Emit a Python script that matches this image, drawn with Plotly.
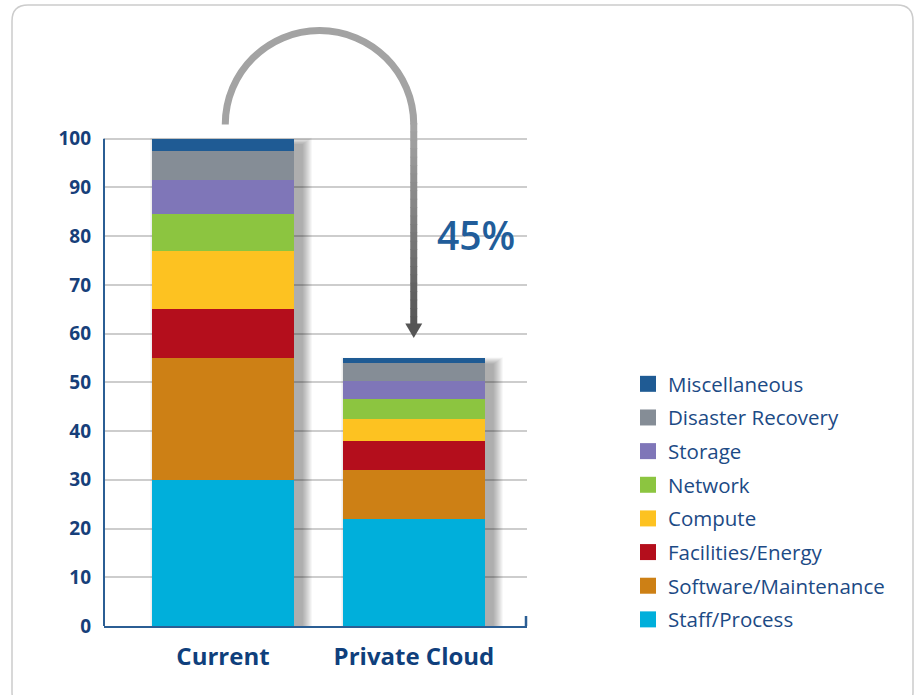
import plotly.graph_objects as go

# ---------------- data ----------------
scenarios = ["Current", "Private Cloud"]
components = ["Staff/Process", "Software/Maintenance", "Facilities/Energy", "Compute",
              "Network", "Storage", "Disaster Recovery", "Miscellaneous"]
staff_process = [30.0, 22.0]
software_maintenance = [25.0, 10.0]
facilities_energy = [10.0, 6.0]
compute = [12.0, 4.5]
network = [7.5, 4.0]
storage = [7.0, 3.7]
disaster_recovery = [6.0, 3.7]
miscellaneous = [2.5, 1.0]
reduction_label = "45%"
y_ticks = [0, 10, 20, 30, 40, 50, 60, 70, 80, 90, 100]

series = [staff_process, software_maintenance, facilities_energy, compute,
          network, storage, disaster_recovery, miscellaneous]
colors = ["#00afdb", "#cd8015", "#b40e1c", "#fdc221",
          "#8cc540", "#7f76b8", "#858d96", "#1f5b94"]

# ---------------- layout constants ----------------
W, H = 919, 695
ML, MR, MT, MB = 104, 392, 12, 69
XR = [-0.623, 1.592]
YR = [0, 126]
BAR_W = 0.743
NAVY = "#173f7a"
AXIS = "#2b5e94"

pw = W - ML - MR
ph = H - MT - MB


def px_to_paper(px, py):
    return (px - ML) / pw, (H - MB - py) / ph


fig = go.Figure()

xpos = list(range(len(scenarios)))
for name, vals, col in zip(components, series, colors):
    fig.add_trace(go.Bar(x=xpos, y=vals, name=name, marker=dict(color=col, line=dict(width=0)),
                         width=BAR_W, showlegend=False))

# legend entries (top item first = Miscellaneous)
for i, (name, col) in enumerate(zip(components[::-1], colors[::-1])):
    fig.add_trace(go.Scatter(x=[None], y=[None], mode="markers", name=name,
                             legendgroup="g%d" % i,
                             marker=dict(symbol="square", size=16, color=col)))

# ---------------- bar shadows ----------------
totals = [sum(s[i] for s in series) for i in range(len(scenarios))]
xunit = pw / (XR[1] - XR[0])
yunit = ph / (YR[1] - YR[0])
shapes = []
for i, tot in enumerate(totals):
    for k in range(1, 11):
        dx = k / xunit
        off = 8 / xunit
        shapes.append(dict(type="rect", xref="x", yref="y", layer="between",
                           x0=i - BAR_W / 2 + off - dx, x1=i + BAR_W / 2 + off + dx,
                           y0=0, y1=tot - 6 / yunit + 0.7 * k / yunit,
                           fillcolor="rgba(0,0,0,0.035)", line=dict(width=0)))

# ---------------- arrow ----------------
cx = (0 + 1) / 2 + 0.0055
rx = 0.4935
cy = 102.9
ry = 19.3
kk = 0.5523
arc = (f"M {cx - rx},{cy} C {cx - rx},{cy + kk * ry} {cx - kk * rx},{cy + ry} {cx},{cy + ry} "
       f"C {cx + kk * rx},{cy + ry} {cx + rx},{cy + kk * ry} {cx + rx},{cy}")
shapes.append(dict(type="path", xref="x", yref="y", path=arc, layer="above",
                   line=dict(color="#a3a3a3", width=7)))
y_top, y_bot = cy + 0.3, 61.8
nseg = 24
c0 = (0xa6, 0xa6, 0xa6)
c1 = (0x55, 0x55, 0x55)
for s in range(nseg):
    t0 = s / nseg
    t1 = (s + 1) / nseg
    ya = y_top + (y_bot - y_top) * t0
    yb = y_top + (y_bot - y_top) * t1 - 0.15
    tc = (s + 0.5) / nseg
    c = tuple(int(round(c0[j] + (c1[j] - c0[j]) * tc)) for j in range(3))
    shapes.append(dict(type="line", xref="x", yref="y", x0=cx + rx, x1=cx + rx,
                       y0=ya, y1=yb if s < nseg - 1 else y_bot,
                       line=dict(color="rgb(%d,%d,%d)" % c, width=7)))
hw = 8.5 / xunit
tip = 59.1
shapes.append(dict(type="path", xref="x", yref="y",
                   path=f"M {cx + rx - hw},{y_bot + 0.3} L {cx + rx + hw},{y_bot + 0.3} L {cx + rx},{tip} Z",
                   fillcolor="#555555", line=dict(width=0)))

# ---------------- axes lines ----------------
ytop_frac = (y_ticks[-1] - YR[0]) / (YR[1] - YR[0])
shapes.append(dict(type="line", xref="paper", yref="paper", x0=0, x1=0, y0=0, y1=ytop_frac,
                   line=dict(color=AXIS, width=2)))
shapes.append(dict(type="line", xref="paper", yref="paper", x0=1 - 1 / pw, x1=1 - 1 / pw,
                   y0=0, y1=10 / ph, line=dict(color=AXIS, width=2.5)))

# ---------------- outer rounded border ----------------
bx0, by0, bx1, by1, r = 12, 5, 913, 708, 16


def P(px, py):
    a, b = px_to_paper(px, py)
    return f"{a},{b}"


border = (f"M {P(bx0, by0 + r)} Q {P(bx0, by0)} {P(bx0 + r, by0)} L {P(bx1 - r, by0)} "
          f"Q {P(bx1, by0)} {P(bx1, by0 + r)} L {P(bx1, by1 - r)} Q {P(bx1, by1)} {P(bx1 - r, by1)} "
          f"L {P(bx0 + r, by1)} Q {P(bx0, by1)} {P(bx0, by1 - r)} Z")
shapes.append(dict(type="path", xref="paper", yref="paper", path=border, layer="below",
                   line=dict(color="#cccccc", width=1.5)))

lx, ly = px_to_paper(628, 364)

fig.update_layout(
    width=W, height=H,
    margin=dict(l=ML, r=MR, t=MT, b=MB, pad=0),
    paper_bgcolor="white", plot_bgcolor="white",
    barmode="stack", bargap=0,
    font=dict(family="Open Sans", color=NAVY),
    shapes=shapes,
    showlegend=True,
    legend=dict(x=lx, y=ly, xanchor="left", yanchor="top", traceorder="grouped",
                tracegroupgap=4, font=dict(family="Open Sans", size=20.5, color="#1c4a85"),
                bgcolor="rgba(0,0,0,0)", itemclick=False),
    xaxis=dict(range=XR, tickvals=xpos, ticktext=scenarios, showgrid=False, zeroline=False,
               showline=True, linecolor=AXIS, linewidth=2, ticks="",
               tickfont=dict(family="Open Sans", size=24, color="#0f3f7c", weight="bold"),
               ticklabelstandoff=8, fixedrange=True),
    yaxis=dict(range=YR, tickvals=y_ticks, showgrid=True, gridcolor="#cdcdcd", gridwidth=2,
               zeroline=False, showline=False, ticks="",
               tickfont=dict(family="Open Sans", size=19, color="#173f7a", weight="bold"),
               ticklabelstandoff=12, fixedrange=True),
    annotations=[dict(x=cx + rx + 0.11, y=80.3, xref="x", yref="y", text=reduction_label,
                      showarrow=False, xanchor="left",
                      font=dict(family="Open Sans", size=39, color="#215d9a", weight=600))],
)

fig.write_html("out.html")
